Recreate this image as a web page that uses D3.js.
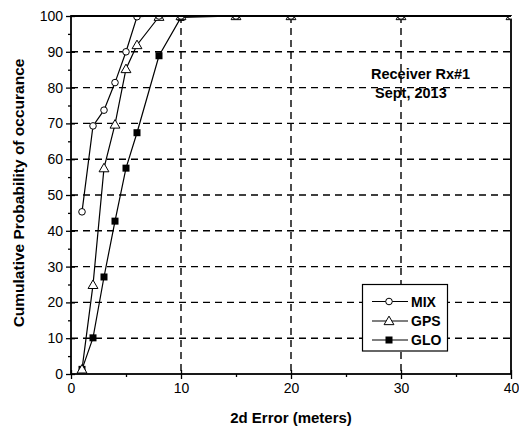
<!DOCTYPE html>
<html><head><meta charset="utf-8">
<script src="https://cdn.jsdelivr.net/npm/d3@7"></script>
<style>body{margin:0;background:#fff}svg{display:block}text{font-family:Arial,"Liberation Sans",sans-serif;fill:#000}</style>
</head><body>
<script>
const errorMeters = [1,2,3,4,5,6,8,10,15,20,30,40];
const mixValues = [45.3,69.3,73.7,81.4,90.0,99.8,100,100,100,100,100,100];
const gpsValues = [1.3,24.9,57.5,69.7,85.2,91.9,99.8,100,100,100,100,100];
const gloValues = [1.3,10.1,27.1,42.7,57.5,67.4,88.9,99.6,100,100,100,100];
const seriesNames = ["MIX","GPS","GLO"];
const xTicks = [0,10,20,30,40];
const yTicks = [0,10,20,30,40,50,60,70,80,90,100];

const W=519,H=427;
const svg=d3.select("body").append("svg").attr("width",W).attr("height",H);
const L=71,R=511,T=16,B=374;
const x=d3.scaleLinear().domain([0,40]).range([L,R]);
const y=d3.scaleLinear().domain([0,100]).range([B,T]);

svg.append("clipPath").attr("id","plotclip").append("rect").attr("x",L).attr("y",T).attr("width",R-L+1).attr("height",B-T+1);

// grid
const g=svg.append("g");
g.selectAll(".hg").data(yTicks.filter(d=>d>0&&d<100)).join("line")
 .attr("x1",L).attr("x2",R).attr("y1",d=>y(d)).attr("y2",d=>y(d))
 .attr("stroke","#000").attr("stroke-width",1.4).attr("stroke-dasharray","7,5");
g.selectAll(".vg").data(xTicks.filter(d=>d>0&&d<40)).join("line")
 .attr("y1",T).attr("y2",B).attr("x1",d=>x(d)).attr("x2",d=>x(d))
 .attr("stroke","#000").attr("stroke-width",1.4).attr("stroke-dasharray","7,5");

// axes
const xAx=svg.append("g").attr("transform",`translate(0,${B})`)
 .call(d3.axisBottom(x).tickValues(xTicks).tickSize(5).tickPadding(4));
const xMin=svg.append("g").attr("transform",`translate(0,${B})`)
 .call(d3.axisBottom(x).tickValues([5,15,25,35]).tickSize(3).tickFormat(""));
const yAx=svg.append("g").attr("transform",`translate(${L},0)`)
 .call(d3.axisLeft(y).tickValues(yTicks).tickSize(5).tickPadding(3));
const yMin=svg.append("g").attr("transform",`translate(${L},0)`)
 .call(d3.axisLeft(y).tickValues(d3.range(5,100,10)).tickSize(3).tickFormat(""));
[xAx,xMin,yAx,yMin].forEach(a=>{a.select(".domain").remove();a.selectAll("line").attr("stroke","#000").attr("stroke-width",1.3);a.selectAll("text").style("font-size","14px").attr("fill","#000");});
xAx.selectAll(".tick line").attr("y1",-4);
yAx.selectAll(".tick line").attr("x1",4);
svg.append("rect").attr("x",L).attr("y",T).attr("width",R-L).attr("height",B-T)
 .attr("fill","none").attr("stroke","#000").attr("stroke-width",1.8);

// series
const line=d3.line().x((d,i)=>x(errorMeters[i])).y(d=>y(d));
const data=[mixValues,gpsValues,gloValues];
const pg=svg.append("g").attr("clip-path","url(#plotclip)");
data.forEach(v=>{pg.append("path").datum(v).attr("d",line).attr("fill","none").attr("stroke","#000").attr("stroke-width",1.2);});
function marker(sel,type,cx,cy){
 if(type==="MIX") sel.append("circle").attr("cx",cx).attr("cy",cy).attr("r",3.3).attr("fill","#fff").attr("stroke","#000").attr("stroke-width",1);
 else if(type==="GPS") sel.append("path").attr("d",d3.symbol(d3.symbolTriangle,42)()).attr("transform",`translate(${cx},${cy+0.8})`).attr("fill","#fff").attr("stroke","#000").attr("stroke-width",1);
 else sel.append("rect").attr("x",cx-3.5).attr("y",cy-3.5).attr("width",7).attr("height",7).attr("fill","#000");
}
const mg=pg.append("g");
[2,1,0].forEach(k=>{data[k].forEach((v,i)=>marker(mg,seriesNames[k],x(errorMeters[i]),y(v)));});
svg.append("line").attr("x1",L).attr("x2",R).attr("y1",T).attr("y2",T).attr("stroke","#000").attr("stroke-width",1.8);

// legend
svg.append("rect").attr("x",362.5).attr("y",284.5).attr("width",85).attr("height",66.5)
 .attr("fill","#fff").attr("stroke","#000").attr("stroke-width",1.2);
const ly=[301.5,321,340];
seriesNames.forEach((n,k)=>{
 svg.append("line").attr("x1",372).attr("x2",408).attr("y1",ly[k]).attr("y2",ly[k]).attr("stroke","#000").attr("stroke-width",1.2);
 marker(svg,n,389,ly[k]);
 svg.append("text").attr("x",411).attr("y",ly[k]).attr("dy","0.36em").style("font-size","14px").style("font-weight","bold").text(n);
});

// annotation
svg.append("text").attr("x",371).attr("y",79).style("font-size","14.5px").style("font-weight","bold").text("Receiver Rx#1");
svg.append("text").attr("x",375).attr("y",98).style("font-size","14.5px").style("font-weight","bold").text("Sept, 2013");

// axis titles
svg.append("text").attr("x",291).attr("y",423).attr("text-anchor","middle").style("font-size","15px").style("font-weight","bold").text("2d Error (meters)");
svg.append("text").attr("transform","translate(24,193) rotate(-90)").attr("text-anchor","middle").style("font-size","15.5px").style("font-weight","bold").text("Cumulative Probability of occurance");
</script>
</body></html>
